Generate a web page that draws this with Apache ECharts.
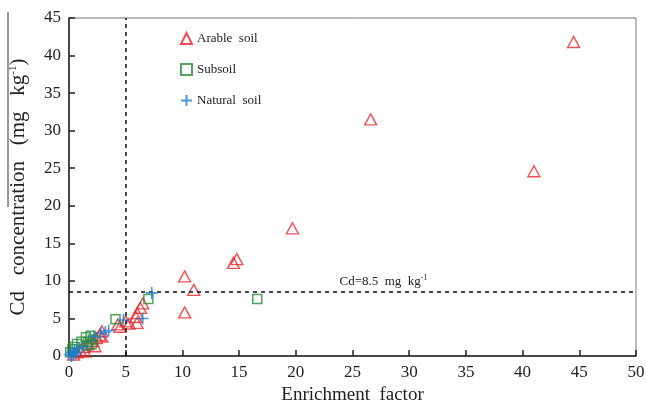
<!DOCTYPE html>
<html>
<head>
<meta charset="utf-8">
<script src="https://cdn.jsdelivr.net/npm/echarts@6/dist/echarts.min.js"></script>
<style>
  html, body { margin: 0; padding: 0; background: #fff; }
  #chart { width: 646px; height: 404px; }
</style>
</head>
<body>
<div id="chart"></div>
<script>
// 坐标轴刻度
const xTicks = [0, 5, 10, 15, 20, 25, 30, 35, 40, 45, 50];
const yTicks = [0, 5, 10, 15, 20, 25, 30, 35, 40, 45];

// 富集因子 vs Cd 浓度
const arableSoil = [
  [44.5, 41.8], [41.0, 24.6], [26.6, 31.5], [19.7, 17.0], [14.8, 12.9], [14.5, 12.4],
  [10.2, 10.6], [11.0, 8.8], [10.2, 5.8],
  [6.5, 7.0], [6.3, 6.4], [6.0, 5.7], [5.9, 5.2], [6.0, 4.4], [5.3, 4.3], [5.0, 4.6],
  [4.5, 3.9], [4.3, 4.2],
  [2.9, 3.3], [2.7, 2.8], [2.9, 2.6], [2.4, 2.4], [2.1, 2.0], [2.3, 1.3], [1.7, 1.6],
  [1.3, 1.2], [1.0, 0.8], [1.4, 0.6], [0.7, 0.5], [0.4, 0.2]
];
const subsoil = [
  [16.6, 7.6], [7.0, 7.6], [4.1, 4.9], [1.9, 2.7], [2.1, 2.2], [1.7, 1.9], [1.1, 1.9],
  [2.0, 1.6], [1.5, 2.5], [1.6, 1.4], [0.7, 1.6], [0.5, 1.2], [0.3, 0.9], [0.1, 0.5]
];
const naturalSoil = [
  [7.3, 8.4], [6.5, 5.0], [4.8, 4.8], [3.5, 3.4], [3.2, 3.2], [2.8, 3.0], [2.2, 2.6],
  [1.3, 1.2], [0.8, 1.0], [0.5, 0.7], [0.25, 0.5], [0.1, 0.2], [0.4, 0.1], [0.6, 0.4], [0.2, 0.0]
];
const efLine = 5;      // 竖直虚线
const cdLimit = 8.5;   // 水平虚线

const serif = '"Liberation Serif", "DejaVu Serif", serif';
const plusPath = 'path://M5,0 L5,10 M0,5 L10,5';

let myChart = echarts.init(document.getElementById('chart'));

let option = {
  animation: false,
  grid: {
    left: 69,
    right: 10,
    top: 18,
    bottom: 48,
    containLabel: false,
    outerBoundsMode: 'none',
    show: true,
    borderColor: '#777',
    borderWidth: 1
  },
  legend: {
    orient: 'vertical',
    left: 175,
    top: 27,
    itemGap: 18,
    itemWidth: 11,
    itemHeight: 11,
    textStyle: { fontFamily: serif, fontSize: 13, color: '#222' },
    data: ['Arable  soil', 'Subsoil', 'Natural  soil']
  },
  xAxis: {
    type: 'value',
    min: 0,
    max: 50,
    interval: 5,
    name: 'Enrichment  factor',
    nameLocation: 'middle',
    nameGap: 29,
    nameTextStyle: { fontFamily: serif, fontSize: 19, color: '#222' },
    axisLine: { lineStyle: { color: '#222', width: 1.5 } },
    axisTick: { inside: true, length: 6, lineStyle: { color: '#222', width: 1.5 } },
    axisLabel: {
      fontFamily: serif, fontSize: 17, color: '#222', margin: 8,
      customValues: xTicks
    },
    splitLine: { show: false }
  },
  yAxis: {
    type: 'value',
    min: 0,
    max: 45,
    interval: 5,
    name: '{t|Cd   concentration   (mg   kg}{s|-1}{t|)}',
    nameLocation: 'middle',
    nameGap: 40,
    nameTextStyle: {
      rich: {
        t: { fontFamily: serif, fontSize: 21, color: '#222' },
        s: { fontFamily: serif, fontSize: 11, color: '#222', verticalAlign: 'top', padding: [0, 0, 9, 0] }
      }
    },
    axisLine: { lineStyle: { color: '#222', width: 1.5 } },
    axisTick: { inside: true, length: 6, lineStyle: { color: '#222', width: 1.5 } },
    axisLabel: {
      fontFamily: serif, fontSize: 17, color: '#222', margin: 8,
      customValues: yTicks
    },
    splitLine: { show: false }
  },
  graphic: [{
    type: 'line',
    shape: { x1: 8, y1: 12, x2: 8, y2: 207 },
    style: { stroke: '#555', lineWidth: 1.2 }
  }],
  series: [
    {
      name: 'Arable  soil',
      type: 'scatter',
      symbol: 'triangle',
      symbolSize: [12, 11],
      itemStyle: { color: 'rgba(0,0,0,0)', borderColor: '#e8262b', borderWidth: 1.4 },
      data: arableSoil,
      z: 3,
      markLine: {
        silent: true,
        symbol: 'none',
        animation: false,
        lineStyle: { color: '#111', type: [4, 4], width: 1.5 },
        data: [
          [
            { coord: [efLine, 0], label: { show: false } },
            { coord: [efLine, 45] }
          ],
          [
            {
              coord: [0, cdLimit],
              label: {
                show: true,
                position: 'middle',
                formatter: '{t|Cd=8.5  mg  kg}{s|-1}',
                padding: [0, 0, 0, 62],
                distance: 4,
                rich: {
                  t: { fontFamily: serif, fontSize: 13, color: '#222' },
                  s: { fontFamily: serif, fontSize: 8, color: '#222', verticalAlign: 'top', padding: [0, 0, 6, 0] }
                }
              }
            },
            { coord: [50, cdLimit] }
          ]
        ]
      }
    },
    {
      name: 'Subsoil',
      type: 'scatter',
      symbol: 'rect',
      symbolSize: 9,
      itemStyle: { color: 'rgba(0,0,0,0)', borderColor: '#2a8a3a', borderWidth: 1.5 },
      data: subsoil,
      z: 4
    },
    {
      name: 'Natural  soil',
      type: 'scatter',
      symbol: plusPath,
      symbolSize: 12,
      itemStyle: { color: 'rgba(0,0,0,0)', borderColor: '#1f7fd0', borderWidth: 1.6 },
      data: naturalSoil,
      z: 5
    }
  ]
};

myChart.setOption(option, true);
window.addEventListener('resize', () => {
  myChart.resize();
});
</script>
</body>
</html>
